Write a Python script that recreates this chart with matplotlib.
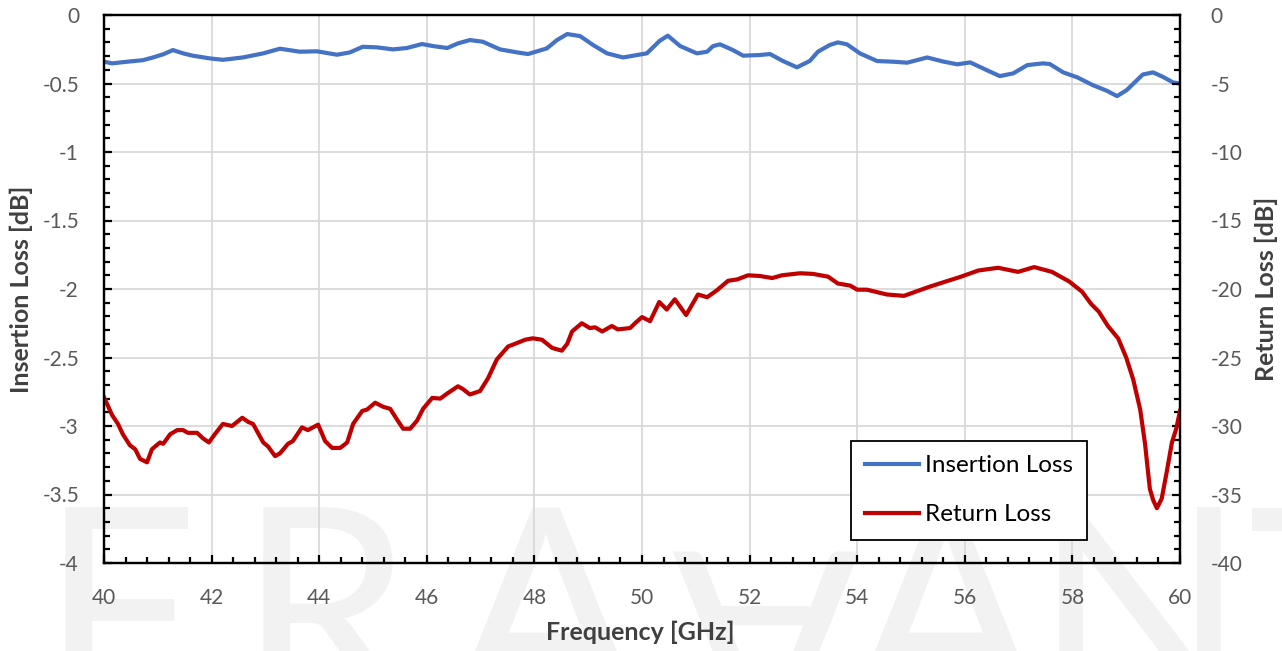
import matplotlib
matplotlib.use("Agg")
import matplotlib.pyplot as plt
from matplotlib.ticker import MultipleLocator

# Insertion loss (left axis, dB)
il_freq = [40.0, 40.15, 40.43, 40.72, 40.91, 41.10, 41.28, 41.47, 41.65, 41.97,
           42.21, 42.58, 42.96, 43.27, 43.64, 43.96, 44.33, 44.57, 44.81, 45.07,
           45.37, 45.63, 45.91, 46.12, 46.38, 46.58, 46.80, 47.04, 47.36, 47.68,
           47.88, 48.23, 48.42, 48.61, 48.85, 49.09, 49.35, 49.65, 49.91, 50.09,
           50.33, 50.48, 50.71, 51.02, 51.21, 51.32, 51.45, 51.69, 51.88, 52.19,
           52.38, 52.62, 52.88, 53.12, 53.27, 53.49, 53.64, 53.81, 54.05, 54.37,
           54.67, 54.93, 55.30, 55.59, 55.86, 56.10, 56.34, 56.65, 56.90, 57.16,
           57.45, 57.58, 57.83, 58.09, 58.38, 58.64, 58.83, 59.01, 59.31, 59.50,
           59.68, 59.87, 60.0]
il_db = [-0.341, -0.353, -0.341, -0.33, -0.31, -0.287, -0.256, -0.28, -0.297, -0.317,
         -0.327, -0.31, -0.28, -0.246, -0.268, -0.265, -0.29, -0.273, -0.232, -0.236,
         -0.251, -0.241, -0.212, -0.227, -0.241, -0.207, -0.183, -0.195, -0.251, -0.273,
         -0.285, -0.244, -0.183, -0.139, -0.154, -0.219, -0.28, -0.31, -0.292, -0.28,
         -0.188, -0.151, -0.227, -0.28, -0.268, -0.227, -0.214, -0.256, -0.297, -0.292,
         -0.285, -0.336, -0.382, -0.335, -0.268, -0.219, -0.2, -0.214, -0.28, -0.336,
         -0.341, -0.348, -0.31, -0.339, -0.36, -0.346, -0.39, -0.446, -0.426, -0.366,
         -0.353, -0.358, -0.419, -0.455, -0.512, -0.553, -0.592, -0.548, -0.434, -0.419,
         -0.451, -0.492, -0.5]

# Return loss (right axis, dB)
rl_freq = [40.0, 40.15, 40.26, 40.35, 40.48, 40.58, 40.67, 40.80, 40.89, 41.04,
           41.10, 41.23, 41.36, 41.47, 41.56, 41.73, 41.84, 41.95, 42.06, 42.21,
           42.38, 42.57, 42.68, 42.77, 42.96, 43.05, 43.18, 43.27, 43.42, 43.51,
           43.68, 43.79, 43.98, 44.11, 44.24, 44.39, 44.52, 44.63, 44.80, 44.89,
           45.04, 45.19, 45.32, 45.45, 45.56, 45.69, 45.82, 45.93, 46.10, 46.25,
           46.39, 46.58, 46.67, 46.80, 46.99, 47.14, 47.30, 47.51, 47.64, 47.83,
           47.97, 48.14, 48.33, 48.51, 48.61, 48.70, 48.88, 49.03, 49.13, 49.26,
           49.44, 49.55, 49.78, 49.87, 50.0, 50.15, 50.32, 50.46, 50.61, 50.82,
           51.04, 51.21, 51.39, 51.60, 51.77, 51.97, 52.19, 52.42, 52.60, 52.94,
           53.18, 53.46, 53.64, 53.87, 54.0, 54.18, 54.55, 54.87, 55.19, 55.37,
           55.69, 55.93, 56.25, 56.62, 56.99, 57.29, 57.62, 57.94, 58.18, 58.35,
           58.49, 58.66, 58.85, 59.0, 59.13, 59.26, 59.35, 59.44, 59.50, 59.57,
           59.66, 59.76, 59.85, 59.93, 60.0]
rl_db = [-27.9, -29.2, -29.85, -30.6, -31.4, -31.7, -32.4, -32.65, -31.7, -31.2,
         -31.3, -30.6, -30.3, -30.3, -30.5, -30.5, -30.9, -31.2, -30.6, -29.85,
         -30.0, -29.4, -29.7, -29.85, -31.2, -31.5, -32.2, -32.0, -31.3, -31.1,
         -30.1, -30.3, -29.9, -31.1, -31.6, -31.6, -31.2, -29.85, -28.9, -28.8,
         -28.3, -28.6, -28.75, -29.55, -30.2, -30.2, -29.6, -28.75, -27.95, -28.0,
         -27.6, -27.1, -27.3, -27.7, -27.45, -26.5, -25.15, -24.2, -24.0, -23.7,
         -23.6, -23.7, -24.3, -24.5, -24.0, -23.1, -22.5, -22.85, -22.8, -23.1,
         -22.7, -22.95, -22.85, -22.5, -22.05, -22.35, -20.95, -21.5, -20.75, -21.9,
         -20.4, -20.6, -20.1, -19.4, -19.3, -19.0, -19.05, -19.2, -19.0, -18.85,
         -18.9, -19.1, -19.6, -19.75, -20.05, -20.05, -20.4, -20.5, -20.05, -19.8,
         -19.4, -19.1, -18.65, -18.45, -18.75, -18.4, -18.75, -19.45, -20.2, -21.1,
         -21.65, -22.7, -23.6, -25.0, -26.6, -28.8, -31.3, -34.6, -35.4, -36.0,
         -35.3, -33.2, -31.2, -30.2, -28.9]

plt.rcParams["font.family"] = ["Lato", "DejaVu Sans"]
plt.rcParams["axes.unicode_minus"] = False
tick_color = "#595959"
label_color = "#404040"

fig = plt.figure(figsize=(12.82, 6.51), dpi=100)
ax = fig.add_axes([104 / 1282, 1 - 563 / 651, 1076 / 1282, 548 / 651])
ax.set_facecolor("none")

# faint watermark behind the axes
wm = [("F", 118, 0), ("R", 325, 0), ("A", 545, 0), ("A", 765, 180),
      ("A", 945, 0), ("N", 1140, 0), ("T", 1330, 0)]
for ch, xp, rot in wm:
    fig.text(xp / 1282, 1 - 628 / 651, ch, fontsize=200, color="#f2f2f2",
             ha="center", va="center", rotation=rot, zorder=-5)

ax2 = ax.twinx()

l1, = ax.plot(il_freq, il_db, color="#4472C4", lw=3, label="Insertion Loss")
l2, = ax2.plot(rl_freq, rl_db, color="#C00000", lw=3, label="Return Loss")

ax.set_xlim(40, 60)
ax.set_ylim(-4, 0)
ax2.set_ylim(-40, 0)

ax.xaxis.set_major_locator(MultipleLocator(2))
ax.xaxis.set_minor_locator(MultipleLocator(0.4))
ax.yaxis.set_major_locator(MultipleLocator(0.5))
ax.yaxis.set_minor_locator(MultipleLocator(0.1))
ax2.yaxis.set_major_locator(MultipleLocator(5))
ax2.yaxis.set_minor_locator(MultipleLocator(1))

ax.grid(True, which="major", color="#d9d9d9", lw=1.3)
ax.set_axisbelow(True)

for a in (ax, ax2):
    for s in a.spines.values():
        s.set_linewidth(1.6)
        s.set_color("black")
    a.tick_params(which="both", direction="in", width=1.6, colors="black",
                  labelcolor=tick_color, labelsize=15)
    a.tick_params(which="major", length=6)
    a.tick_params(which="minor", length=4)
ax.tick_params(axis="y", pad=18)
ax.tick_params(axis="x", pad=18)
ax2.tick_params(axis="y", pad=22)

fmt = plt.FuncFormatter(lambda v, p: f"{v:g}")
ax.yaxis.set_major_formatter(fmt)
ax2.yaxis.set_major_formatter(fmt)
ax.xaxis.set_major_formatter(fmt)

ax.set_xlabel("Frequency [GHz]", fontsize=18, fontweight="bold", color=label_color)
ax.set_ylabel("Insertion Loss [dB]", fontsize=18, fontweight="bold", color=label_color)
ax2.set_ylabel("Return Loss [dB]", fontsize=18, fontweight="bold", color=label_color)
ax.xaxis.set_label_coords(0.498, -0.105)
ax.yaxis.set_label_coords(-0.066, 0.5)
ax2.yaxis.set_label_coords(1.069, 0.5)

leg = ax2.legend([l1, l2], ["Insertion Loss", "Return Loss"],
                 loc="lower left", bbox_to_anchor=(0.694, 0.042, 0.2196, 0.179),
                 mode="expand", fontsize=17.5, frameon=True, fancybox=False,
                 edgecolor="black", handlelength=2.2, handletextpad=0.25,
                 labelspacing=1.15, borderpad=0.6, borderaxespad=0)
leg.get_frame().set_linewidth(1.3)
leg.get_frame().set_alpha(None)
leg.get_frame().set_facecolor("white")

fig.savefig("out.png", dpi=100)
